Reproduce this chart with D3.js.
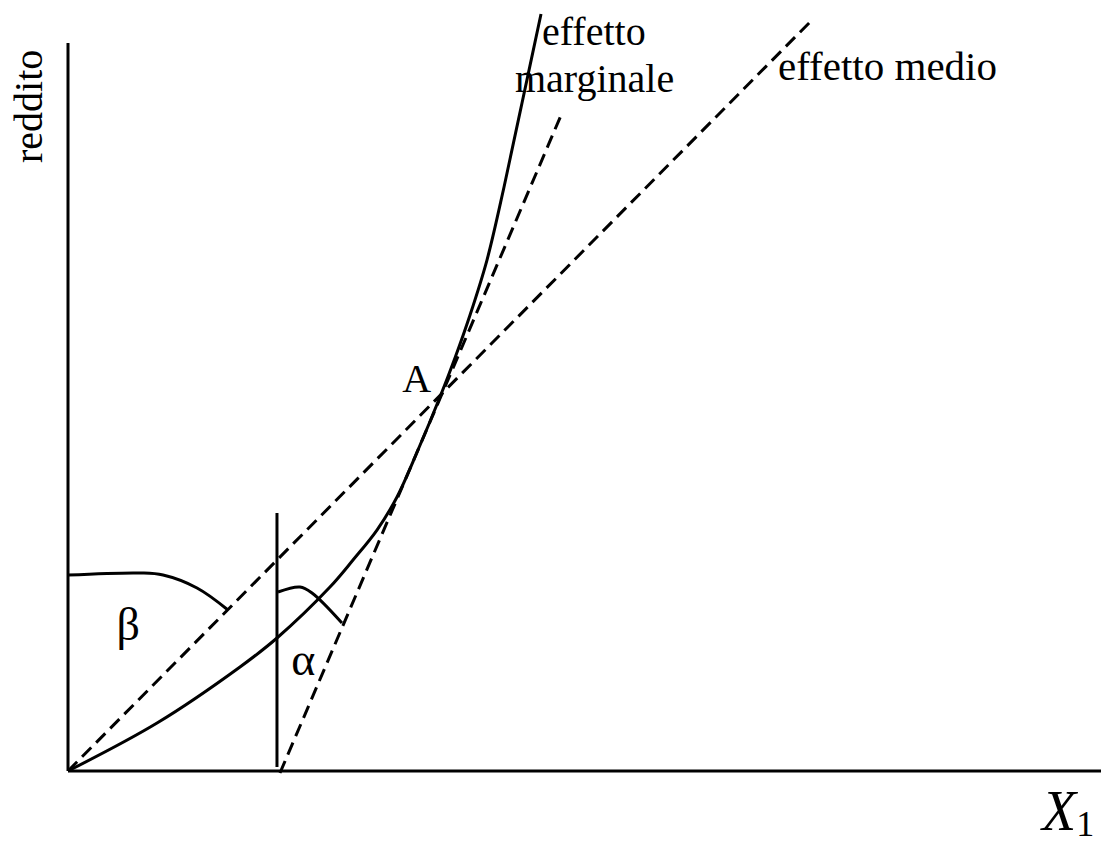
<!DOCTYPE html>
<html>
<head>
<meta charset="utf-8">
<script src="https://cdn.jsdelivr.net/npm/d3@7"></script>
<style>
  html, body { margin: 0; padding: 0; background: #fff; }
  svg { display: block; }
  text { font-family: "Liberation Serif", "Times New Roman", serif; fill: #000; }
</style>
</head>
<body>
<svg id="chart" width="1101" height="848"></svg>
<script>
// Reddito in funzione di X1: curva, effetto medio e effetto marginale in A
const axisDomainX = [0, 10];
const axisDomainY = [0, 10];

// curva del reddito
const curveX = [0, 0.862, 1.665, 2.023, 2.536, 2.759, 2.991, 3.185, 3.388, 3.601, 3.746, 3.892, 4.056, 4.221, 4.395, 4.579];
const curveY = [0, 0.659, 1.429, 1.827, 2.527, 2.898, 3.310, 3.764, 4.409, 5.137, 5.673, 6.264, 7.019, 8.022, 9.176, 10.398];

// retta dell'effetto medio (dall'origine passando per A)
const medioX = [0, 7.183];
const medioY = [0, 10.288];

// tangente in A (effetto marginale)
const marginaleX = [2.052, 4.782];
const marginaleY = [-0.027, 9.038];

// verticale di riferimento
const verticaleX = [2.023, 2.023];
const verticaleY = [0.055, 3.544];

// archi degli angoli
const betaX = [0, 0.697, 0.920, 1.249, 1.549];
const betaY = [2.692, 2.720, 2.692, 2.514, 2.212];
const alphaX = [2.033, 2.246, 2.362, 2.652];
const alphaY = [2.459, 2.527, 2.445, 2.033];

// etichette
const labelA = { x: 3.235, y: 5.206, text: "A", size: 40 };
const labelBeta = { x: 0.47, y: 1.80, text: "β", size: 46 };
const labelAlpha = { x: 2.16, y: 1.32, text: "α", size: 46 };

const svg = d3.select("#chart");
const x = d3.scaleLinear().domain(axisDomainX).range([68, 1101]);
const y = d3.scaleLinear().domain(axisDomainY).range([771, 43]);

const zip = (xs, ys) => xs.map((v, i) => [v, ys[i]]);
const smooth = d3.line().x(d => x(d[0])).y(d => y(d[1])).curve(d3.curveCatmullRom.alpha(0.5));
const straight = d3.line().x(d => x(d[0])).y(d => y(d[1]));

// assi
svg.append("line")
  .attr("x1", x(0)).attr("x2", x(0))
  .attr("y1", y(0)).attr("y2", y(axisDomainY[1]))
  .attr("stroke", "#000").attr("stroke-width", 3);
svg.append("line")
  .attr("x1", x(0)).attr("x2", x(axisDomainX[1]))
  .attr("y1", y(0)).attr("y2", y(0))
  .attr("stroke", "#000").attr("stroke-width", 3);

// rette tratteggiate
[[medioX, medioY], [marginaleX, marginaleY]].forEach(([xs, ys]) => {
  svg.append("path")
    .attr("d", straight(zip(xs, ys)))
    .attr("fill", "none").attr("stroke", "#000").attr("stroke-width", 3)
    .attr("stroke-dasharray", "13,7");
});

// verticale
svg.append("path")
  .attr("d", straight(zip(verticaleX, verticaleY)))
  .attr("fill", "none").attr("stroke", "#000").attr("stroke-width", 3);

// curva
svg.append("path")
  .attr("d", smooth(zip(curveX, curveY)))
  .attr("fill", "none").attr("stroke", "#000").attr("stroke-width", 3);

// archi
[[betaX, betaY], [alphaX, alphaY]].forEach(([xs, ys]) => {
  svg.append("path")
    .attr("d", smooth(zip(xs, ys)))
    .attr("fill", "none").attr("stroke", "#000").attr("stroke-width", 3);
});

// testi
svg.append("text")
  .attr("transform", "translate(42,163) rotate(-90)")
  .attr("font-size", 40)
  .text("reddito");

const marg = svg.append("text").attr("font-size", 40);
marg.append("tspan").attr("x", 542).attr("y", 45).text("effetto");
marg.append("tspan").attr("x", 515).attr("y", 92).text("marginale");

svg.append("text")
  .attr("x", 778).attr("y", 80)
  .attr("font-size", 41)
  .text("effetto medio");

[labelA, labelBeta, labelAlpha].forEach(l => {
  svg.append("text")
    .attr("x", x(l.x)).attr("y", y(l.y))
    .attr("font-size", l.size)
    .text(l.text);
});

const xl = svg.append("text").attr("x", 1042).attr("y", 830);
xl.append("tspan").attr("font-size", 56).attr("font-style", "italic").text("X");
xl.append("tspan").attr("font-size", 36).attr("dy", 6).text("1");
</script>
</body>
</html>
